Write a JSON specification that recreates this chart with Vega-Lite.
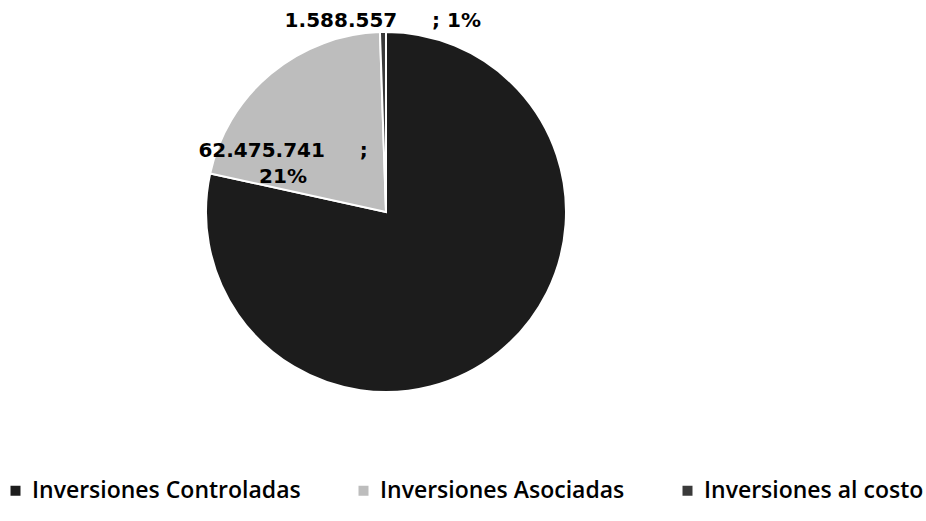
{
  "$schema": "https://vega.github.io/schema/vega-lite/v6.json",
  "width": 772,
  "height": 424,
  "padding": {"left": 0, "top": 0, "right": 0, "bottom": 12},
  "background": "white",
  "data": {
    "values": [
      {"categoria": "Inversiones Controladas", "valor": 233000000, "orden": 1, "etiqueta": ""},
      {"categoria": "Inversiones Asociadas", "valor": 62475741, "orden": 2, "etiqueta": "62.475.741\u00a0\u00a0\u00a0\u00a0\u00a0;\n21%"},
      {"categoria": "Inversiones al costo", "valor": 1588557, "orden": 3, "etiqueta": "1.588.557\u00a0\u00a0\u00a0\u00a0\u00a0; 1%"}
    ]
  },
  "encoding": {
    "theta": {"field": "valor", "type": "quantitative", "stack": true},
    "order": {"field": "orden", "type": "quantitative"}
  },
  "layer": [
    {
      "mark": {"type": "arc", "outerRadius": 180, "stroke": "white", "strokeWidth": 2},
      "encoding": {
        "color": {
          "field": "categoria",
          "type": "nominal",
          "scale": {
            "domain": ["Inversiones Controladas", "Inversiones Asociadas", "Inversiones al costo"],
            "range": ["#1c1c1c", "#bdbdbd", "#3a3a3a"]
          },
          "legend": {
            "orient": "none",
            "legendX": 4,
            "legendY": 479,
            "direction": "horizontal",
            "title": null,
            "symbolType": "square",
            "symbolSize": 100,
            "symbolStrokeWidth": 0,
            "labelFont": "Open Sans",
            "labelFontSize": 23,
            "labelFontWeight": 600,
            "labelColor": "black",
            "labelOffset": 5,
            "labelLimit": 400,
            "columnPadding": 51,
            "padding": 0
          }
        }
      }
    },
    {
      "mark": {"type": "text", "radius": 191, "font": "DejaVu Sans", "fontWeight": "bold", "fontSize": 20, "color": "black", "align": "center", "baseline": "middle"},
      "encoding": {
        "text": {"condition": {"test": "datum.orden == 3", "field": "etiqueta"}, "value": ""}
      }
    },
    {
      "mark": {"type": "text", "radius": 114, "dx": -30, "dy": 27, "font": "DejaVu Sans", "fontWeight": "bold", "fontSize": 20, "color": "black", "align": "center", "baseline": "middle", "lineBreak": "\n", "lineHeight": 26},
      "encoding": {
        "text": {"condition": {"test": "datum.orden == 2", "field": "etiqueta"}, "value": ""}
      }
    }
  ],
  "config": {"view": {"stroke": null}}
}
